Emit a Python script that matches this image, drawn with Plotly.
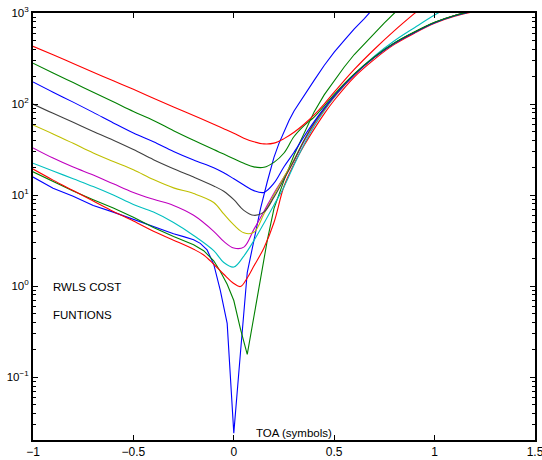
import plotly.graph_objects as go

# ---- RWLS cost curves versus TOA offset (symbols) ----

# sampling positions shared by the smooth curves
x_smooth = [-1.0, -0.9, -0.8, -0.7, -0.6, -0.5, -0.4, -0.3, -0.2, -0.1, -0.05,
            0.0, 0.05, 0.1, 0.15, 0.2, 0.25, 0.3, 0.35, 0.4, 0.45, 0.5,
            0.6, 0.7, 0.8, 0.9, 1.0, 1.1, 1.2]

cost_red_hi = [431, 347, 279, 224, 180, 145, 116, 93, 75, 60, 53.7,
               47.9, 42.2, 38.5, 36.5, 37.2, 41.7, 49, 60, 76, 100, 135,
               240, 400, 640, 990, 1500, 2200, 3000]
cost_green_hi = [281, 219, 172, 135, 106, 83, 66, 51, 40, 31.6, 28.2,
                 25.1, 22.4, 20.4, 20.2, 22.9, 29, 44, 58, 72, 95, 128,
                 215, 330, 470, 620, 790, 940, 1060]
cost_blue_hi = [175, 135, 105, 81, 62, 48, 38.5, 30.2, 24.3, 20, 17.6,
                15.1, 12.9, 11.2, 10.7, 13.5, 20.5, 29.5, 44, 64, 90, 123,
                210, 325, 465, 612, 780, 932, 1055]
cost_gray = [100, 79, 63, 50, 40, 31.6, 24.5, 19.5, 15.8, 12.6, 11.0,
             8.9, 6.8, 6.0, 6.5, 9.5, 15, 24, 40, 62, 88, 122,
             212, 328, 468, 618, 788, 940, 1060]
cost_yellow = [59, 47, 37, 29, 23.4, 19, 14.8, 12, 10.4, 8.3, 6.2,
               4.7, 3.85, 3.9, 6.2, 10, 15.8, 24.5, 40, 61, 87, 121,
               210, 326, 466, 616, 786, 938, 1058]
cost_magenta = [33, 25.5, 20.3, 16.6, 13.3, 10.7, 9.0, 7.7, 6.0, 4.0, 3.1,
                2.62, 2.68, 4.2, 6.6, 10.5, 15.8, 24, 39, 60, 87, 120,
                208, 325, 466, 616, 786, 938, 1058]
cost_cyan = [22.4, 18.4, 15.1, 12.4, 10, 7.9, 6.5, 5.0, 3.6, 2.45, 1.82,
             1.62, 2.14, 3.16, 4.9, 7.8, 12.3, 21.4, 36, 57, 84, 118,
             210, 335, 495, 690, 950, 1250, 1550]

x_red_lo = [-1.0, -0.9, -0.8, -0.7, -0.6, -0.5, -0.4, -0.3, -0.2, -0.15,
            -0.1, -0.05, 0.0, 0.033, 0.067, 0.1, 0.15, 0.2, 0.25, 0.3,
            0.35, 0.4, 0.45, 0.5, 0.6, 0.7, 0.8, 0.9, 1.0, 1.1, 1.2]
cost_red_lo = [19.3, 14.6, 11.2, 8.6, 6.6, 5.2, 4.0, 3.2, 2.54, 2.2,
               1.74, 1.35, 1.07, 0.99, 1.23, 1.66, 2.63, 5.0, 12.5, 22,
               35, 53, 78, 110, 198, 310, 452, 600, 770, 920, 1040]

x_green_lo = [-1.0, -0.9, -0.8, -0.7, -0.6, -0.5, -0.4, -0.3, -0.25, -0.2,
              -0.15, -0.1, -0.067, -0.033, 0.0, 0.033, 0.067, 0.1, 0.133, 0.167,
              0.2, 0.25, 0.3, 0.35, 0.4, 0.45, 0.5, 0.55, 0.6, 0.65,
              0.7, 0.75, 0.8, 0.85]
cost_green_lo = [18, 14.1, 11.1, 8.9, 7.2, 5.7, 4.4, 3.5, 3.15, 2.85,
                 2.45, 1.9, 1.45, 1.05, 0.695, 0.34, 0.178, 0.47, 1.26, 3.2,
                 7.1, 14.5, 27.5, 47, 82, 126, 180, 255, 350, 460,
                 600, 780, 1000, 1250]

x_blue_lo = [-1.0, -0.9, -0.8, -0.7, -0.6, -0.5, -0.4, -0.3, -0.25, -0.2,
             -0.167, -0.133, -0.1, -0.067, -0.033, 0.0, 0.033, 0.067, 0.1, 0.133,
             0.167, 0.2, 0.225, 0.25, 0.275, 0.3, 0.35, 0.4, 0.45, 0.5,
             0.55, 0.6, 0.65, 0.7]
cost_blue_lo = [15.8, 11.9, 9.7, 7.7, 6.5, 5.4, 4.5, 3.76, 3.5, 3.24,
                2.95, 2.5, 1.74, 0.89, 0.39, 0.0243, 0.184, 1.41, 3.16, 7.1,
                14.1, 26, 37, 50, 66, 84, 125, 182, 265, 372,
                500, 670, 870, 1150]

x_tick_vals = [-1, -0.5, 0, 0.5, 1, 1.5]
x_tick_text = ["\u22121", "\u22120.5", "0", "0.5", "1", "1.5"]
y_tick_vals = [0.1, 1, 10, 100, 1000]
y_tick_text = ["10<sup>\u22121</sup>", "10<sup>0</sup>", "10<sup>1</sup>",
               "10<sup>2</sup>", "10<sup>3</sup>"]

BLUE, GREEN, RED = "#0000ff", "#008000", "#ff0000"
CYAN, MAGENTA, YELLOW, GRAY = "#00bfbf", "#bf00bf", "#bfbf00", "#404040"

series = [
    (x_blue_lo, cost_blue_lo, BLUE, "linear"),
    (x_green_lo, cost_green_lo, GREEN, "linear"),
    (x_red_lo, cost_red_lo, RED, "spline"),
    (x_smooth, cost_cyan, CYAN, "spline"),
    (x_smooth, cost_magenta, MAGENTA, "spline"),
    (x_smooth, cost_yellow, YELLOW, "spline"),
    (x_smooth, cost_gray, GRAY, "spline"),
    (x_smooth, cost_blue_hi, BLUE, "spline"),
    (x_smooth, cost_green_hi, GREEN, "spline"),
    (x_smooth, cost_red_hi, RED, "spline"),
]

fig = go.Figure()
for xs, ys, color, shape in series:
    fig.add_trace(go.Scatter(
        x=xs, y=ys, mode="lines",
        line=dict(color=color, width=1.1, shape=shape, smoothing=1.0),
        showlegend=False, hoverinfo="skip",
    ))

FONT = "Liberation Sans, Arial, Helvetica, sans-serif"
minor_vals = [m * 10.0 ** e for e in range(-2, 3) for m in range(2, 10)]

fig.update_layout(
    width=542, height=460,
    margin=dict(l=33, r=7, t=13, b=20, autoexpand=False),
    paper_bgcolor="white", plot_bgcolor="white",
    font=dict(family=FONT, size=11, color="black"),
    xaxis=dict(
        range=[-1, 1.5], tickmode="array", tickvals=x_tick_vals, ticktext=x_tick_text,
        ticks="inside", ticklen=5, tickwidth=1, tickcolor="black",
        showline=True, linewidth=2, linecolor="black", mirror="ticks",
        showgrid=False, zeroline=False, tickfont=dict(size=12),
        automargin=False, ticklabeloverflow="allow",
    ),
    yaxis=dict(
        type="log", range=[-1.69, 3], tickmode="array",
        tickvals=y_tick_vals, ticktext=y_tick_text,
        ticks="inside", ticklen=5, tickwidth=1, tickcolor="black",
        minor=dict(ticks="inside", ticklen=3, tickwidth=1, tickcolor="black",
                   tickmode="array", tickvals=minor_vals, showgrid=False),
        showline=True, linewidth=2, linecolor="black", mirror="ticks",
        showgrid=False, zeroline=False, tickfont=dict(size=11.5),
        automargin=False, ticklabeloverflow="allow",
    ),
    annotations=[
        dict(x=-0.91, y=-0.011, xref="x", yref="y", text="RWLS COST",
             showarrow=False, xanchor="left", yanchor="middle",
             font=dict(size=11.5, family=FONT)),
        dict(x=-0.91, y=-0.319, xref="x", yref="y", text="FUNTIONS",
             showarrow=False, xanchor="left", yanchor="middle",
             font=dict(size=11.5, family=FONT)),
        dict(x=0.1, y=-1.615, xref="x", yref="y", text="TOA (symbols)",
             showarrow=False, xanchor="left", yanchor="middle",
             font=dict(size=11.5, family=FONT)),
    ],
)

fig.write_html("out.html")
